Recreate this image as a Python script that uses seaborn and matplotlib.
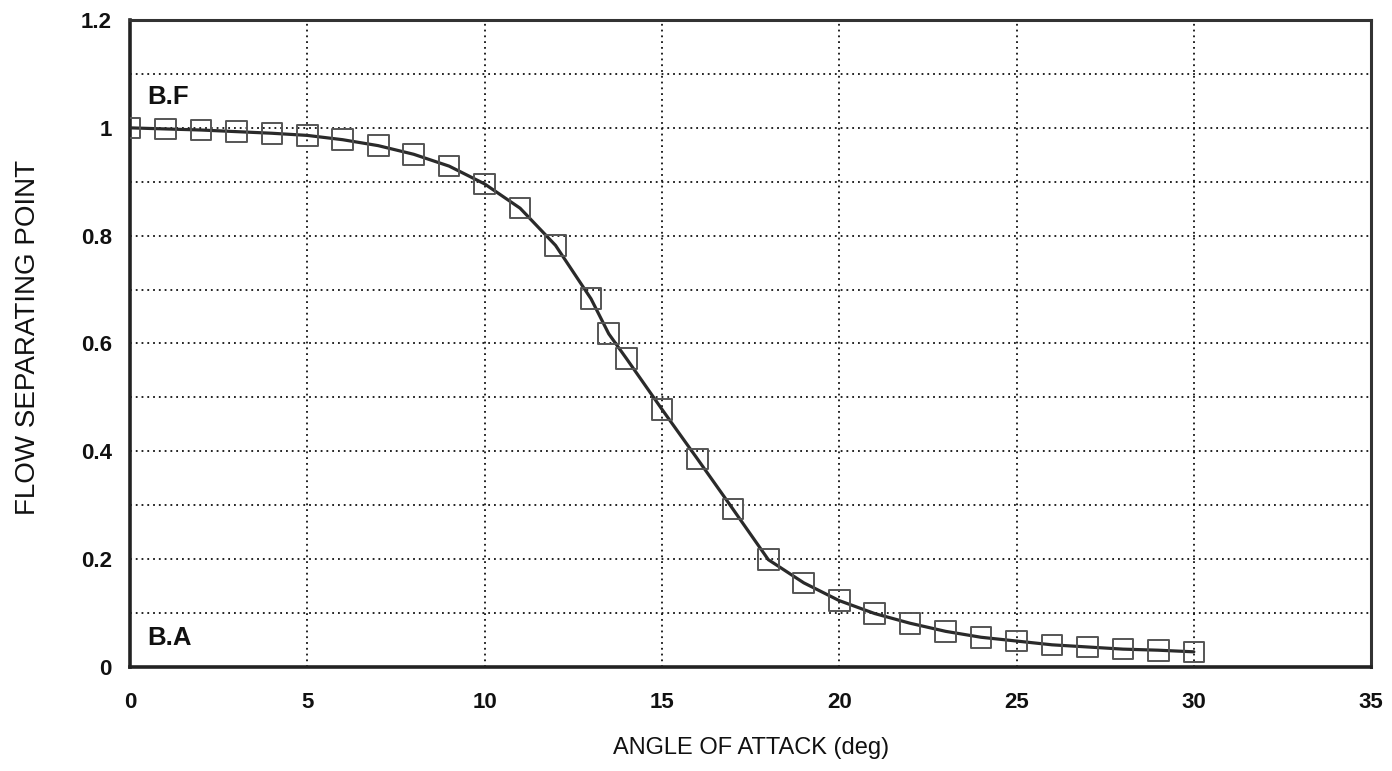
import numpy as np
import pandas as pd
import matplotlib
matplotlib.use("Agg")
import matplotlib.pyplot as plt
import seaborn as sns

# Data
angle = [0, 1, 2, 3, 4, 5, 6, 7, 8, 9, 10, 11, 12, 13, 13.5, 14, 15, 16, 17,
         18, 19, 20, 21, 22, 23, 24, 25, 26, 27, 28, 29, 30]
separation = [1.000, 0.998, 0.996, 0.993, 0.990, 0.986, 0.978, 0.967, 0.951,
              0.929, 0.896, 0.851, 0.782, 0.683, 0.618, 0.572, 0.478, 0.386,
              0.293, 0.199, 0.156, 0.123, 0.099, 0.081, 0.066, 0.055, 0.048,
              0.041, 0.037, 0.033, 0.031, 0.028]
x_ticks = [0, 5, 10, 15, 20, 25, 30, 35]
y_ticks = [0, 0.2, 0.4, 0.6, 0.8, 1.0, 1.2]
y_tick_labels = ["0", "0.2", "0.4", "0.6", "0.8", "1", "1.2"]
x_label = "ANGLE OF ATTACK (deg)"
y_label = "FLOW SEPARATING POINT"
note_top = "B.F"
note_bottom = "B.A"

df = pd.DataFrame({"angle": angle, "sep": separation})

sns.set_style("white")
plt.rcParams["font.family"] = ["Liberation Sans", "DejaVu Sans"]

fig = plt.figure(figsize=(13.92, 7.71), dpi=100)
ax = fig.add_axes([0.0934, 0.135, 0.8916, 0.839])

sns.lineplot(data=df, x="angle", y="sep", ax=ax, color="#2a2a2a",
             linewidth=2.3, zorder=3)
sns.scatterplot(data=df, x="angle", y="sep", ax=ax, marker="s", s=220,
                facecolor="none", edgecolor="#555555", linewidth=1.4,
                zorder=4)

ax.set_xlim(0, 35)
ax.set_ylim(0, 1.2)
ax.set_xticks(x_ticks)
ax.set_xticklabels([str(t) for t in x_ticks])
ax.set_yticks(y_ticks)
ax.set_yticklabels(y_tick_labels)
ax.set_yticks(np.arange(0.1, 1.2, 0.2), minor=True)

ax.grid(True, which="both", axis="y", color="#111111", linestyle=(0, (1, 2.2)),
        linewidth=1.3)
ax.grid(True, which="major", axis="x", color="#111111", linestyle=(0, (1, 2.2)),
        linewidth=1.3)
ax.set_axisbelow(True)

ax.tick_params(axis="both", which="both", length=0, labelsize=16,
               labelcolor="#111111")
ax.tick_params(axis="x", pad=18)
ax.tick_params(axis="y", pad=13)
for lab in ax.get_xticklabels() + ax.get_yticklabels():
    lab.set_fontweight("bold")

ax.set_xlabel(x_label, fontsize=17, labelpad=17, color="#111111")
ax.set_ylabel(y_label, fontsize=20, color="#111111")
ax.yaxis.set_label_coords(-0.0717, 0.51)

for side in ["left", "bottom"]:
    ax.spines[side].set_linewidth(2.6)
    ax.spines[side].set_color("#222222")
for side in ["top", "right"]:
    ax.spines[side].set_linewidth(2.2)
    ax.spines[side].set_color("#333333")

ax.text(0.5, 1.058, note_top, fontsize=18.5, fontweight="bold", ha="left",
        va="center", color="#111111")
ax.text(0.5, 0.054, note_bottom, fontsize=18.5, fontweight="bold", ha="left",
        va="center", color="#111111")

fig.savefig("out.png", dpi=100)
